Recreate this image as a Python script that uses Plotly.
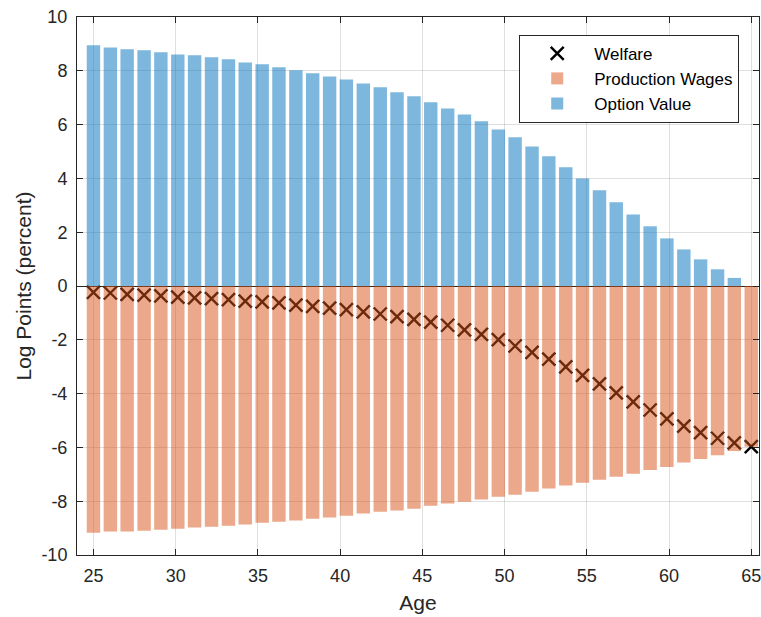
import plotly.graph_objects as go

ages = [25.00, 26.03, 27.05, 28.08, 29.10, 30.13, 31.15, 32.18, 33.21, 34.23,
        35.26, 36.28, 37.31, 38.33, 39.36, 40.38, 41.41, 42.44, 43.46, 44.49,
        45.51, 46.54, 47.56, 48.59, 49.62, 50.64, 51.67, 52.69, 53.72, 54.74,
        55.77, 56.79, 57.82, 58.85, 59.87, 60.90, 61.92, 62.95, 63.97, 65.00]

option_value = [8.95, 8.87, 8.80, 8.76, 8.69, 8.61, 8.58, 8.50, 8.43, 8.31,
                8.24, 8.13, 8.02, 7.91, 7.79, 7.68, 7.53, 7.39, 7.20, 7.05,
                6.83, 6.60, 6.38, 6.12, 5.82, 5.53, 5.19, 4.82, 4.41, 4.00,
                3.56, 3.11, 2.66, 2.22, 1.77, 1.36, 0.99, 0.62, 0.30, 0.00]

production_wages = [-9.17, -9.13, -9.13, -9.10, -9.06, -9.02, -8.98, -8.95, -8.91, -8.87,
                    -8.80, -8.76, -8.72, -8.65, -8.61, -8.54, -8.46, -8.39, -8.35, -8.28,
                    -8.17, -8.09, -8.02, -7.94, -7.83, -7.76, -7.65, -7.53, -7.42, -7.31,
                    -7.20, -7.09, -6.98, -6.84, -6.73, -6.56, -6.43, -6.29, -6.13, -5.98]

welfare = [-0.24, -0.26, -0.31, -0.34, -0.37, -0.41, -0.44, -0.47, -0.51, -0.56,
           -0.59, -0.63, -0.71, -0.76, -0.82, -0.88, -0.96, -1.04, -1.14, -1.24,
           -1.34, -1.46, -1.63, -1.80, -1.99, -2.23, -2.47, -2.72, -3.01, -3.32,
           -3.64, -3.97, -4.31, -4.61, -4.94, -5.21, -5.45, -5.66, -5.83, -5.97]

x_ticks = [25, 30, 35, 40, 45, 50, 55, 60, 65]
y_ticks = [-10, -8, -6, -4, -2, 0, 2, 4, 6, 8, 10]

AX = "#262626"
FONT = "Liberation Sans, Arial, sans-serif"
X_RANGE = [24, 65.47]
Y_RANGE = [-10, 10]

fig = go.Figure()

fig.add_trace(go.Scatter(
    x=ages, y=welfare, mode="markers", name="Welfare",
    marker=dict(symbol="x-thin", size=13, color="black",
                line=dict(width=2.4, color="black")),
    xaxis="x", yaxis="y",
))
fig.add_trace(go.Bar(
    x=ages, y=production_wages, name="Production Wages",
    marker=dict(color="rgb(217,83,25)", line=dict(width=0)),
    opacity=0.5, xaxis="x2", yaxis="y2",
))
fig.add_trace(go.Bar(
    x=ages, y=option_value, name="Option Value",
    marker=dict(color="rgb(0,114,189)", line=dict(width=0)),
    opacity=0.5, xaxis="x2", yaxis="y2",
))

common_tick = dict(ticks="inside", ticklen=6, tickwidth=1, tickcolor=AX,
                   showline=True, linecolor=AX, linewidth=1, mirror="ticks",
                   showgrid=True, gridcolor="rgba(38,38,38,0.15)", gridwidth=1,
                   zeroline=False, ticklabeloverflow="allow",
                   tickfont=dict(family=FONT, size=18, color=AX))

fig.update_layout(
    width=761, height=617,
    margin=dict(l=77, r=0, t=17, b=62),
    paper_bgcolor="white", plot_bgcolor="white",
    barmode="overlay", bargap=0.2,
    font=dict(family=FONT, color=AX),
    xaxis=dict(range=X_RANGE, tickmode="array", tickvals=x_ticks,
               ticktext=[str(v) for v in x_ticks],
               title=dict(text="Age", font=dict(family=FONT, size=21, color=AX), standoff=10),
               ticklabelstandoff=4,
               **common_tick),
    yaxis=dict(range=Y_RANGE, tickmode="array", tickvals=y_ticks,
               ticktext=[str(v) for v in y_ticks],
               title=dict(text="Log Points (percent)", font=dict(family=FONT, size=21, color=AX), standoff=4),
               ticklabelstandoff=5,
               **common_tick),
    xaxis2=dict(range=X_RANGE, overlaying="x", visible=False),
    yaxis2=dict(range=Y_RANGE, overlaying="y", visible=False),
    xaxis3=dict(range=X_RANGE, overlaying="x", showgrid=False, showticklabels=False,
                ticks="", showline=False, zeroline=False),
    yaxis3=dict(range=Y_RANGE, overlaying="y", showgrid=False, showticklabels=False,
                ticks="", showline=False, zeroline=True, zerolinecolor=AX, zerolinewidth=1),
    legend=dict(x=0.971, y=0.967, xanchor="right", yanchor="top",
                bgcolor="white", bordercolor=AX, borderwidth=1,
                font=dict(family=FONT, size=17, color="black"),
                traceorder="normal", itemwidth=64, tracegroupgap=0),
    showlegend=True,
)

# invisible helper trace so the third overlay axis (baseline on top of bars) is drawn
fig.add_trace(go.Scatter(x=[ages[0]], y=[welfare[0]], mode="markers",
                         marker=dict(opacity=0), xaxis="x3", yaxis="y3",
                         showlegend=False, hoverinfo="skip"))

fig.write_html("out.html")
